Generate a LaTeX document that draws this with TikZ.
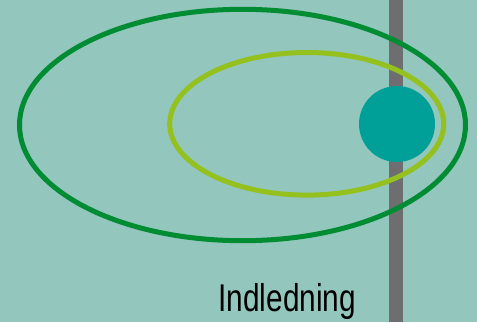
\documentclass[tikz,border=0pt]{standalone}
\usepackage{fontspec}
\setmainfont{Liberation Sans}
\definecolor{bgc}{HTML}{93C6BD}
\definecolor{dkgreen}{HTML}{008C32}
\definecolor{ltgreen}{HTML}{95C11F}
\definecolor{barc}{HTML}{6E6E70}
\definecolor{tealc}{HTML}{00A099}
\begin{document}
\begin{tikzpicture}[x=1pt,y=-1pt,
  ring/.style={line width=5pt},
  lbl/.style={font=\fontsize{38.7}{40}\selectfont, xscale=0.77, inner sep=0pt, anchor=base}]
\fill[bgc] (0,0) rectangle (477,322);
\useasboundingbox (0,0) rectangle (477,322);
\fill[barc] (388.5,0) rectangle (402.5,322);
\draw[ring, dkgreen] (242.5,125) ellipse [x radius=223, y radius=115.7];
\draw[ring, ltgreen] (306.7,123.8) ellipse [x radius=137, y radius=71.3];
\node[circle, fill=tealc, minimum size=76pt, inner sep=0pt] (dot) at (397,124) {};
\node[lbl] (title) at (287.3,311) {Indledning};
\end{tikzpicture}
\end{document}
